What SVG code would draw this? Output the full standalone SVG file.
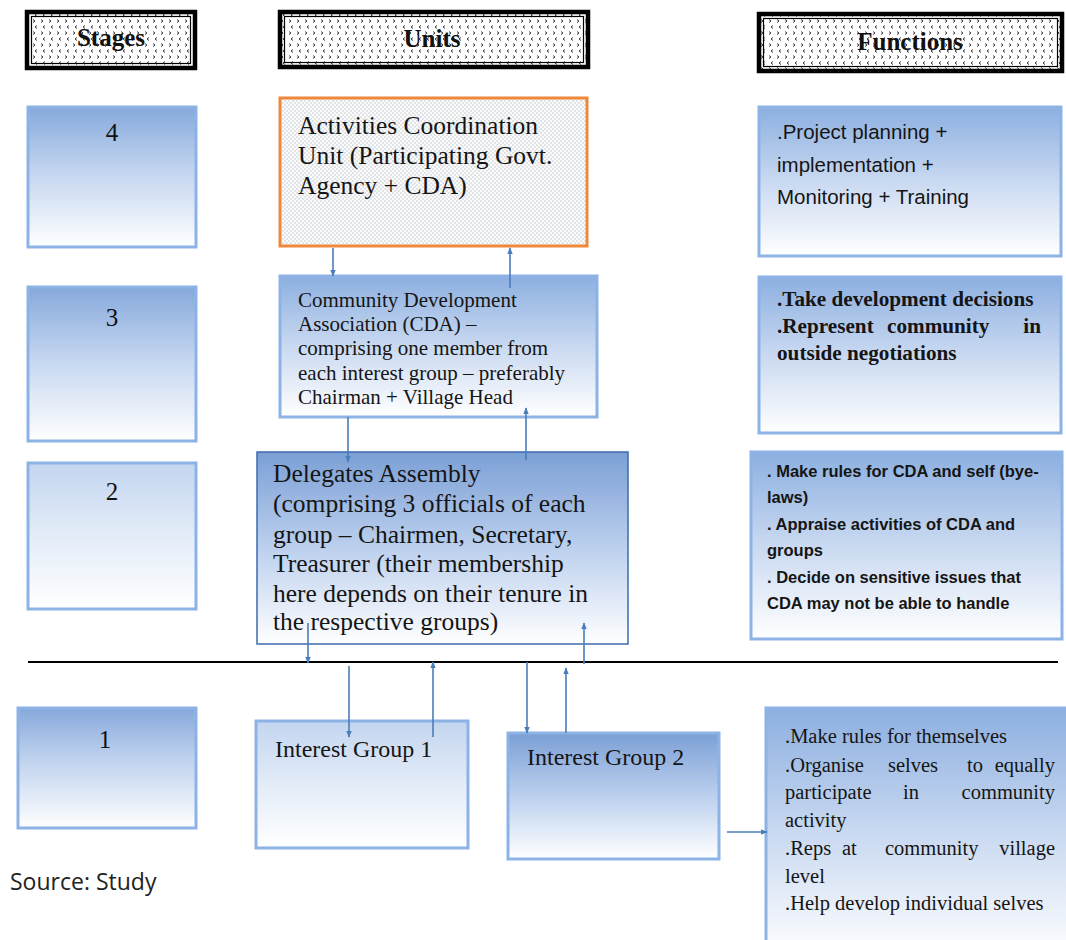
<svg xmlns="http://www.w3.org/2000/svg" width="1066" height="940" viewBox="0 0 1066 940">
<defs>
<style>
.hdr{fill:url(#chev);stroke:#000;stroke-width:4.5}
.hdri{fill:none;stroke:#000;stroke-width:1.2}
.ht{font-family:"Liberation Serif","Times New Roman",serif;font-weight:bold;font-size:25px;fill:#111;text-anchor:middle}
.box{stroke:#8db3e6;stroke-width:3}
.num{font-family:"Liberation Serif","Times New Roman",serif;font-size:25px;fill:#111;text-anchor:middle}
.ser{font-family:"Liberation Serif","Times New Roman",serif;fill:#151515}
.sans{font-family:"Liberation Sans",Arial,sans-serif;fill:#151515}
.conn line{stroke:#4a7ebb;stroke-width:1.6}
</style>
<pattern id="chev" width="16" height="12" patternUnits="userSpaceOnUse">
<rect width="16" height="12" fill="#fff"/>
<path d="M5 1.5 L3 3 L5 4.5 M13 1.5 L11 3 L13 4.5" fill="none" stroke="#222" stroke-width="0.9"/>
<path d="M1 7.5 L3 9 L1 10.5 M9 7.5 L11 9 L9 10.5" fill="none" stroke="#222" stroke-width="0.9"/>
</pattern>
<pattern id="dots" width="4" height="4" patternUnits="userSpaceOnUse">
<rect width="4" height="4" fill="#fbfbfb"/>
<circle cx="1" cy="1" r="0.7" fill="#b8bfc8"/>
<circle cx="3" cy="3" r="0.7" fill="#b8bfc8"/>
</pattern>
<linearGradient id="gStage" x1="0" y1="0" x2="0" y2="1">
<stop offset="0" stop-color="#86a9dc"/><stop offset="0.45" stop-color="#c2d4ef"/><stop offset="1" stop-color="#ffffff"/>
</linearGradient>
<linearGradient id="gLight" x1="0" y1="0" x2="0" y2="1">
<stop offset="0" stop-color="#c3d5ef"/><stop offset="0.5" stop-color="#e3ecf8"/><stop offset="1" stop-color="#ffffff"/>
</linearGradient>
<linearGradient id="gDA" x1="0" y1="0" x2="0" y2="1">
<stop offset="0" stop-color="#7b9fd5"/><stop offset="0.5" stop-color="#bcd0ee"/><stop offset="1" stop-color="#ffffff"/>
</linearGradient>
<linearGradient id="gF" x1="0" y1="0" x2="0" y2="1">
<stop offset="0" stop-color="#8cafe0"/><stop offset="0.5" stop-color="#c9d9f1"/><stop offset="1" stop-color="#ffffff"/>
</linearGradient>
<marker id="ah" viewBox="0 0 10 10" refX="9" refY="5" markerWidth="7" markerHeight="7" orient="auto-start-reverse" markerUnits="userSpaceOnUse">
<path d="M0 1 L10 5 L0 9 Z" fill="#4a7ebb"/>
</marker>
</defs>
<rect width="1066" height="940" fill="#fff"/>

<g id="hdr-stages">
<rect class="hdr" x="27" y="12" width="168" height="56"/>
<rect class="hdri" x="31.5" y="16.5" width="159" height="47"/>
<text class="ht" x="111" y="46">Stages</text>
</g>
<g id="hdr-units">
<rect class="hdr" x="280" y="12" width="308" height="55"/>
<rect class="hdri" x="284.5" y="16.5" width="299" height="46"/>
<text class="ht" x="432" y="47">Units</text>
</g>
<g id="hdr-functions">
<rect class="hdr" x="759" y="14" width="303" height="57"/>
<rect class="hdri" x="763.5" y="18.5" width="294" height="48"/>
<text class="ht" x="910" y="50">Functions</text>
</g>

<g id="stage4"><rect class="box" x="28" y="107" width="168" height="140" fill="url(#gStage)"/><text class="num" x="112" y="141">4</text></g>
<g id="stage3"><rect class="box" x="28" y="287" width="168" height="154" fill="url(#gStage)"/><text class="num" x="112" y="326">3</text></g>
<g id="stage2"><rect class="box" x="28" y="463" width="168" height="146" fill="url(#gLight)" stroke="#c6d8f1"/><text class="num" x="112" y="500">2</text></g>
<g id="stage1"><rect class="box" x="18" y="708" width="178" height="120" fill="url(#gStage)"/><text class="num" x="105" y="748">1</text></g>

<g id="acu">
<rect x="280" y="98" width="307" height="148" fill="url(#dots)" stroke="#f0883a" stroke-width="3"/>
<text class="ser" font-size="25.5"><tspan x="298" y="134">Activities Coordination</tspan><tspan x="298" y="164">Unit (Participating Govt.</tspan><tspan x="298" y="194">Agency + CDA)</tspan></text>
</g>
<g id="cda">
<rect class="box" x="280" y="276" width="317" height="141" fill="url(#gF)"/>
<text class="ser" font-size="21"><tspan x="298" y="307">Community Development</tspan><tspan x="298" y="331">Association (CDA) –</tspan><tspan x="298" y="355">comprising one member from</tspan><tspan x="298" y="380">each interest group – preferably</tspan><tspan x="298" y="404">Chairman + Village Head</tspan></text>
</g>
<g id="da">
<rect x="257" y="452" width="371" height="192" fill="url(#gDA)" stroke="#3d6bb0" stroke-width="1.5"/>
<text class="ser" font-size="25.5"><tspan x="273" y="482">Delegates Assembly</tspan><tspan x="273" y="512">(comprising 3 officials of each</tspan><tspan x="273" y="543">group – Chairmen, Secretary,</tspan><tspan x="273" y="572">Treasurer (their membership</tspan><tspan x="273" y="602">here depends on their tenure in</tspan><tspan x="273" y="630">the respective groups)</tspan></text>
</g>
<g id="ig1">
<rect class="box" x="256" y="721" width="212" height="127" fill="url(#gLight)" stroke="#c6d8f1"/>
<text class="ser" font-size="24" x="275" y="757">Interest Group 1</text>
</g>
<g id="ig2">
<rect class="box" x="508" y="733" width="211" height="126" fill="url(#gDA)"/>
<text class="ser" font-size="24" x="527" y="765">Interest Group 2</text>
</g>

<g id="f4">
<rect class="box" x="759" y="107" width="302" height="149" fill="url(#gF)"/>
<text class="sans" font-size="20.5"><tspan x="777" y="139">.Project planning +</tspan><tspan x="777" y="172">implementation +</tspan><tspan x="777" y="204">Monitoring + Training</tspan></text>
</g>
<g id="f3">
<rect class="box" x="759" y="277" width="302" height="156" fill="url(#gF)"/>
<g class="ser" font-size="21.2" font-weight="bold">
<text x="777" y="306">.Take development decisions</text>
<text x="777" y="333">.Represent</text><text x="887" y="333">community</text><text x="1041" y="333" text-anchor="end">in</text>
<text x="777" y="360">outside negotiations</text>
</g>
</g>
<g id="f2">
<rect class="box" x="751" y="452" width="311" height="187" fill="url(#gF)"/>
<text class="sans" font-size="16.5" font-weight="bold"><tspan x="767" y="477">. Make rules for CDA and self (bye-</tspan><tspan x="767" y="503">laws)</tspan><tspan x="767" y="530">. Appraise activities of CDA and</tspan><tspan x="767" y="556">groups</tspan><tspan x="767" y="583">. Decide on sensitive issues that</tspan><tspan x="767" y="609">CDA may not be able to handle</tspan></text>
</g>
<g id="f1">
<rect class="box" x="766" y="708" width="310" height="250" fill="url(#gF)"/>
<g class="ser" font-size="20.5">
<text x="785" y="743">.Make rules for themselves</text>
<text x="785" y="772">.Organise</text><text x="888" y="772">selves</text><text x="967" y="772">to</text><text x="1055" y="772" text-anchor="end">equally</text>
<text x="785" y="799">participate</text><text x="903" y="799">in</text><text x="1055" y="799" text-anchor="end">community</text>
<text x="785" y="827">activity</text>
<text x="785" y="855">.Reps</text><text x="842" y="855">at</text><text x="885" y="855">community</text><text x="1055" y="855" text-anchor="end">village</text>
<text x="785" y="883">level</text>
<text x="785" y="910">.Help develop individual selves</text>
</g>
</g>

<g id="divider"><line x1="28" y1="662" x2="1058" y2="662" stroke="#000" stroke-width="2"/></g>

<g id="connectors" class="conn">
<line x1="333" y1="248" x2="333" y2="276" marker-end="url(#ah)"/>
<line x1="510" y1="288" x2="510" y2="248" marker-end="url(#ah)"/>
<line x1="348" y1="417" x2="348" y2="462" marker-end="url(#ah)"/>
<line x1="526" y1="460" x2="526" y2="408" marker-end="url(#ah)"/>
<line x1="308" y1="623" x2="308" y2="663" marker-end="url(#ah)"/>
<line x1="584" y1="664" x2="584" y2="623" marker-end="url(#ah)"/>
<line x1="349" y1="666" x2="349" y2="737" marker-end="url(#ah)"/>
<line x1="433" y1="737" x2="433" y2="662" marker-end="url(#ah)"/>
<line x1="527" y1="662" x2="527" y2="733" marker-end="url(#ah)"/>
<line x1="566" y1="733" x2="566" y2="668" marker-end="url(#ah)"/>
<line x1="727" y1="832" x2="767" y2="832" marker-end="url(#ah)"/>
</g>

<g id="source"><text x="10" y="890" font-family="'Open Sans',sans-serif" font-size="23" fill="#222">Source: Study</text></g>
</svg>
